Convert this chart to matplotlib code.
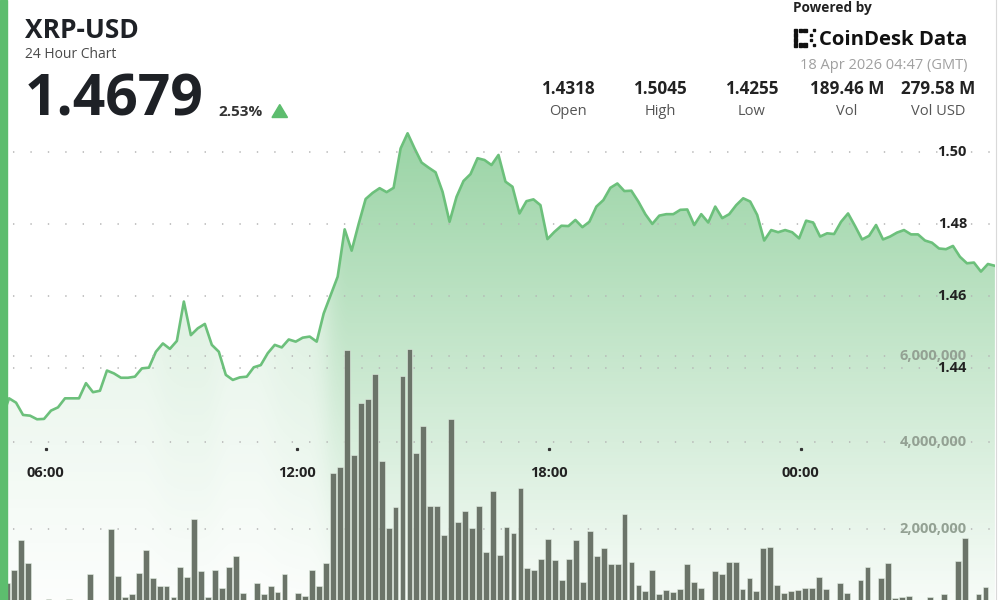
import matplotlib
matplotlib.use("Agg")
import matplotlib.pyplot as plt
import numpy as np
from matplotlib.transforms import blended_transform_factory as btf
from matplotlib.patches import Rectangle, Polygon

# ---------------- data ----------------
symbol = "XRP-USD"
subtitle = "24 Hour Chart"
last_price = "1.4679"
change_pct = "2.53%"
stat_values = ["1.4318", "1.5045", "1.4255", "189.46 M", "279.58 M"]
stat_labels = ["Open", "High", "Low", "Vol", "Vol USD"]
powered_by = "Powered by"
brand = "CoinDesk Data"
timestamp = "18 Apr 2026 04:47 (GMT)"

time_ticks = [6, 12, 18, 24]
time_labels = ["06:00", "12:00", "18:00", "00:00"]
price_ticks = [1.50, 1.48, 1.46, 1.44]
volume_ticks = [6_000_000, 4_000_000, 2_000_000]

# price sampled every 10 minutes starting 04:58 (hours since 00:00 of day 1)
price_start_hour = 4.96
prices = [
    1.4263, 1.4317, 1.4305, 1.4271, 1.4269, 1.4259, 1.4260, 1.4283, 1.4292, 1.4317,
    1.4317, 1.4317, 1.4359, 1.4334, 1.4338, 1.4394, 1.4386, 1.4374, 1.4374, 1.4377,
    1.4400, 1.4402, 1.4446, 1.4469, 1.4454, 1.4476, 1.4585, 1.4492, 1.4511, 1.4523,
    1.4465, 1.4446, 1.4382, 1.4368, 1.4375, 1.4377, 1.4403, 1.4409, 1.4442, 1.4465,
    1.4458, 1.4480, 1.4474, 1.4485, 1.4488, 1.4474, 1.4552, 1.4603, 1.4654, 1.4785,
    1.4726, 1.4800, 1.4869, 1.4886, 1.4899, 1.4888, 1.4900, 1.5009, 1.5051, 1.5009,
    1.4970, 1.4956, 1.4943, 1.4889, 1.4806, 1.4875, 1.4919, 1.4938, 1.4982, 1.4977,
    1.4963, 1.4991, 1.4917, 1.4903, 1.4829, 1.4863, 1.4868, 1.4852, 1.4758, 1.4778,
    1.4795, 1.4794, 1.4811, 1.4791, 1.4806, 1.4848, 1.4866, 1.4900, 1.4912, 1.4891,
    1.4892, 1.4862, 1.4827, 1.4800, 1.4823, 1.4827, 1.4827, 1.4839, 1.4840, 1.4797,
    1.4827, 1.4804, 1.4848, 1.4816, 1.4827, 1.4852, 1.4871, 1.4862, 1.4825, 1.4754,
    1.4783, 1.4777, 1.4783, 1.4777, 1.4760, 1.4809, 1.4804, 1.4765, 1.4774, 1.4772,
    1.4806, 1.4829, 1.4794, 1.4757, 1.4767, 1.4797, 1.4757, 1.4765, 1.4776, 1.4783,
    1.4771, 1.4771, 1.4754, 1.4748, 1.4732, 1.4730, 1.4739, 1.4709, 1.4691, 1.4693,
    1.4668, 1.4689, 1.4684,
]

volumes = [
    744000, 1050000, 1740000, 1210000, 250000, 250000, 372000, 250000, 340000, 372000,
    250000, 250000, 953000, 250000, 250000, 2000000, 907000, 419000, 488000, 977000,
    1510000, 860000, 674000, 674000, 419000, 1120000, 884000, 2230000, 1020000, 419000,
    1050000, 628000, 1120000, 1370000, 512000, 250000, 744000, 488000, 674000, 535000,
    953000, 250000, 512000, 442000, 1050000, 674000, 1210000, 3280000, 3420000, 6140000,
    3700000, 4910000, 5000000, 5580000, 3560000, 2020000, 2510000, 5530000, 6160000, 3740000,
    4370000, 2530000, 2530000, 1860000, 4530000, 2160000, 2400000, 2020000, 2530000, 1470000,
    2880000, 1400000, 2050000, 1910000, 2950000, 1090000, 1050000, 1300000, 1770000, 1280000,
    814000, 1300000, 1740000, 767000, 1950000, 1370000, 1560000, 1190000, 1190000, 2350000,
    1230000, 698000, 558000, 1050000, 488000, 581000, 535000, 605000, 1190000, 767000,
    628000, 250000, 1020000, 953000, 1230000, 1230000, 605000, 860000, 558000, 1560000,
    1580000, 698000, 512000, 558000, 581000, 628000, 628000, 884000, 605000, 250000,
    744000, 512000, 250000, 814000, 1120000, 250000, 860000, 1210000, 395000, 419000,
    442000, 250000, 250000, 419000, 250000, 488000, 250000, 1260000, 1790000, 250000,
    488000, 651000, 250000,
]

# ---------------- styling ----------------
FONT = ["Open Sans", "DejaVu Sans"]
plt.rcParams["font.family"] = FONT
GREEN = "#5dbd6e"
LINE_GREEN = "#6cc07b"
DARK = "#1e2126"
BAR = "#6b7469"
GRID = "#b4b4b4"

W, H = 1000, 600
fig = plt.figure(figsize=(10, 6), dpi=100)
fig.patch.set_facecolor("white")


def X(px):
    return px / W


def Y(py):
    return 1 - py / H


# plotting area: px x 0..995, px y 120..600
rect = [0, 0, X(995), 1 - 120 / H]
ax = fig.add_axes(rect)
axv = fig.add_axes(rect)
axv.patch.set_alpha(0)
ax.axis("off")
axv.axis("off")

n = len(prices)
ptimes = price_start_hour + np.arange(n) / 6.0

x_lo, x_hi = 4.9106, 28.629
y_lo, y_hi = 1.37585, 1.50878

# gradient fill under the price line (stronger where the line is high)
poly = ax.fill_between(ptimes, prices, y_lo, facecolor="none", edgecolor="none")
ncol, nrow = 995, 480
xg = np.linspace(x_lo, x_hi, ncol)
pcol = np.interp(xg, ptimes, prices)
colw = 0.36 + 0.64 * np.clip((pcol - 1.443) / 0.024, 0, 1)
win = np.lib.stride_tricks.sliding_window_view(np.pad(colw, 35, mode="edge"), 71)
colw = np.median(win, axis=1)
kern = np.ones(21) / 21
colw = np.convolve(np.pad(colw, 10, mode="edge"), kern, mode="valid")
ypx = 120 + np.arange(nrow)
roww = np.interp(ypx, [133, 600], [0.62, 0.05])
alpha = roww[:, None] * colw[None, :]
img = np.zeros((nrow, ncol, 4))
img[..., 0] = 92 / 255
img[..., 1] = 185 / 255
img[..., 2] = 110 / 255
img[..., 3] = alpha
im = ax.imshow(img, extent=[x_lo, x_hi, y_lo, y_hi], origin="upper", aspect="auto",
               interpolation="bilinear", zorder=1)
im.set_clip_path(poly.get_paths()[0], transform=ax.transData)
ax.set_xlim(x_lo, x_hi)
ax.set_ylim(y_lo, y_hi)
ax.set_aspect("auto")

ax.plot(ptimes, prices, color=LINE_GREEN, lw=1.9, zorder=3, solid_joinstyle="round")

# volume axes (band scale by bar index)
nb = len(volumes)
axv.set_xlim(-0.576, 142.8)
axv.set_ylim(351000, 11450000)

# dotted gridlines
for p in price_ticks:
    ax.axhline(p, color=GRID, lw=1.1, linestyle=(2.9, (0.9, 10.5)), zorder=2)
for v in volume_ticks:
    axv.axhline(v, color=GRID, lw=1.1, linestyle=(2.9, (0.9, 10.5)), zorder=0)

axv.bar(np.arange(nb), volumes, width=0.84, align="edge", color=BAR,
        edgecolor="#e4efe4", linewidth=0.4, zorder=2)

# axis labels (inside plot, right side)
tx_fig_x = btf(fig.transFigure, ax.transData)
for p in price_ticks:
    ax.text(X(967), p, f"{p:.2f}", transform=tx_fig_x, ha="right", va="center",
            fontsize=10.5, fontweight="bold", color="#222222", zorder=6)
tv = btf(fig.transFigure, axv.transData)
for v in volume_ticks:
    axv.text(X(967), v, f"{v:,.0f}", transform=tv, ha="right", va="center",
             fontsize=10.5, fontweight="bold", color="#93a193", zorder=5)

# time labels + tick dots
tt = btf(ax.transData, fig.transFigure)
for t, lab in zip(time_ticks, time_labels):
    ax.text(t, Y(473.3), lab, transform=tt, ha="center", va="center",
            fontsize=10.5, fontweight="bold", color="#222222", zorder=6)
    ax.plot([t], [Y(449.3)], transform=tt, marker="s", ms=1.3, color="#333333",
            zorder=6, clip_on=False)

# left accent strip and right border
fig.patches.append(Rectangle((0, 0), X(7), 1, transform=fig.transFigure,
                             color=GREEN, zorder=10))
fig.patches.append(Rectangle((X(995), 0), X(1000) - X(995), 1, transform=fig.transFigure,
                             facecolor="white", edgecolor="none", zorder=10))
fig.lines.append(plt.Line2D([X(995.5), X(995.5)], [0, 1], transform=fig.transFigure,
                            color="#d9d9d9", lw=0.8, zorder=11))

# ---------------- header ----------------
fig.text(X(25), Y(38.5), symbol, fontsize=19, fontweight="bold", color=DARK,
         va="baseline", ha="left")
fig.text(X(25), Y(58.3), subtitle, fontsize=10, color="#4a4a4a", va="baseline", ha="left")
fig.text(X(25), Y(115), last_price, fontsize=41, fontweight="bold", color=DARK,
         va="baseline", ha="left")
fig.text(X(218.5), Y(116.5), change_pct, fontsize=11, fontweight="bold", color="#333333",
         va="baseline", ha="left")
fig.patches.append(Polygon([[X(272), Y(117.5)], [X(287.5), Y(117.5)], [X(279.75), Y(104.5)]],
                           closed=True, transform=fig.transFigure, color=GREEN))

fig.text(X(793), Y(11.8), powered_by, fontsize=9.8, fontweight="bold", color="#222222",
         va="baseline", ha="left")
fig.text(X(967), Y(45), brand, fontsize=14.6, fontweight="bold", color="#111111",
         va="baseline", ha="right")
# logo glyph
sq = []
for yy in (28.5, 33.3, 38.1, 42.9):
    sq.append((793.5, yy, 3.6, 3.6))
for xx in (798.5, 803.3):
    sq.append((xx, 28.5, 3.6, 3.6))
    sq.append((xx, 42.9, 3.6, 3.6))
for yy in (33.8, 38.6):
    sq.append((809.5, yy, 2.6, 2.6))
sq.append((812.5, 28.5, 2.6, 2.6))
sq.append((812.5, 43.6, 2.6, 2.6))
for (x0, y0, w, h) in sq:
    fig.patches.append(Rectangle((X(x0), Y(y0 + h)), w / W, h / H,
                                 transform=fig.transFigure, color="#111111"))

fig.text(X(967), Y(69.3), timestamp, fontsize=10.5, color="#a0a0a0", va="baseline", ha="right")

stat_centers = [567.5, 660, 752, 847, 938]
for cx, val, lab in zip(stat_centers, stat_values, stat_labels):
    fig.text(X(cx), Y(94.3), val, fontsize=12.3, fontweight="bold", color="#222222",
             va="baseline", ha="center")
    fig.text(X(cx), Y(115), lab, fontsize=10.5, color="#555555", va="baseline", ha="center")

fig.savefig("out.png", dpi=100, facecolor="white")
